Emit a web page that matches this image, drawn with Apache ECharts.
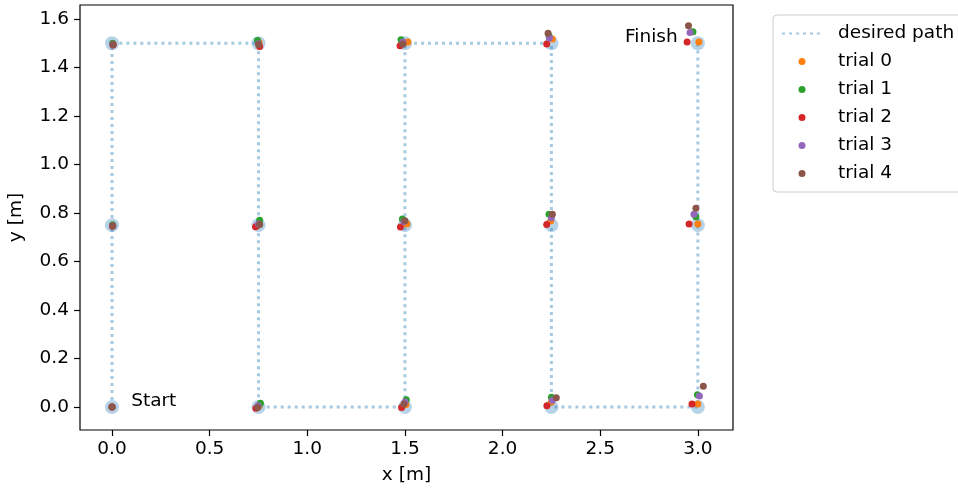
<!DOCTYPE html>
<html><head><meta charset="utf-8">
<script src="https://cdn.jsdelivr.net/npm/echarts@6/dist/echarts.min.js"></script>
<style>html,body{margin:0;padding:0;background:#fff}#c{width:958px;height:488px}</style>
</head><body><div id="c"></div>
<script>
// desired path waypoints (in driving order)
const waypointX = [0, 0, 0, 0.75, 0.75, 0.75, 1.5, 1.5, 1.5, 2.25, 2.25, 2.25, 3, 3, 3];
const waypointY = [0, 0.75, 1.5, 1.5, 0.75, 0, 0, 0.75, 1.5, 1.5, 0.75, 0, 0, 0.75, 1.5];

// measured positions per trial (same waypoint order)
const trial0X = [0.000, 0.003, 0.004, 0.753, 0.752, 0.752, 1.505, 1.510, 1.515, 2.255, 2.247, 2.250, 3.000, 3.000, 3.005];
const trial0Y = [0.000, 0.748, 1.497, 1.503, 0.752, 0.004, 0.010, 0.755, 1.505, 1.518, 0.768, 0.020, 0.012, 0.755, 1.505];
const trial1X = [0.000, 0.003, 0.003, 0.745, 0.756, 0.760, 1.507, 1.487, 1.480, 2.238, 2.238, 2.250, 2.998, 2.990, 2.975];
const trial1Y = [0.000, 0.752, 1.500, 1.512, 0.770, 0.015, 0.030, 0.775, 1.515, 1.530, 0.795, 0.040, 0.050, 0.785, 1.548];
const trial2X = [0.000, 0.002, 0.005, 0.756, 0.735, 0.737, 1.483, 1.477, 1.475, 2.226, 2.226, 2.227, 2.970, 2.955, 2.945];
const trial2Y = [0.000, 0.745, 1.493, 1.487, 0.743, -0.005, -0.002, 0.742, 1.490, 1.497, 0.753, 0.005, 0.012, 0.755, 1.505];
const trial3X = [0.000, 0.004, 0.004, 0.750, 0.750, 0.748, 1.500, 1.495, 1.490, 2.240, 2.250, 2.255, 3.008, 2.980, 2.960];
const trial3Y = [0.000, 0.747, 1.496, 1.498, 0.755, 0.005, 0.020, 0.765, 1.505, 1.522, 0.780, 0.028, 0.045, 0.795, 1.545];
const trial4X = [0.000, 0.004, 0.006, 0.750, 0.756, 0.746, 1.495, 1.500, 1.490, 2.233, 2.255, 2.275, 3.028, 2.990, 2.952];
const trial4Y = [0.000, 0.746, 1.495, 1.495, 0.753, -0.002, 0.012, 0.768, 1.497, 1.541, 0.795, 0.038, 0.085, 0.820, 1.572];

const trialNames = ['trial 0', 'trial 1', 'trial 2', 'trial 3', 'trial 4'];
const trialColors = ['#ff7f0e', '#2ca02c', '#d62728', '#9467bd', '#8c564b'];

const xTicks = [0, 0.5, 1.0, 1.5, 2.0, 2.5, 3.0];
const yTicks = [0, 0.2, 0.4, 0.6, 0.8, 1.0, 1.2, 1.4, 1.6];

const annotationText = ['Start', 'Finish'];
const annotationX = [0.098, 2.897];
const annotationY = [0.022, 1.526];

const trialsX = [trial0X, trial1X, trial2X, trial3X, trial4X];
const trialsY = [trial0Y, trial1Y, trial2Y, trial3Y, trial4Y];
const zip = (xs, ys) => xs.map((x, i) => [x, ys[i]]);

const FONT = 'DejaVu Sans';
const FS = 18.5;
const pathColor = 'rgba(31,119,180,0.4)';

const series = [
  {
    name: 'desired path', type: 'line', data: zip(waypointX, waypointY),
    symbol: 'none', silent: true, z: 1,
    lineStyle: { color: pathColor, width: 3, type: [3, 4], cap: 'butt' },
    itemStyle: { color: pathColor }
  },
  {
    name: 'waypoints', type: 'scatter', data: zip(waypointX, waypointY),
    symbol: 'circle', symbolSize: 14, z: 2, silent: true,
    itemStyle: { color: pathColor }
  }
];
trialNames.forEach((n, i) => {
  series.push({
    name: n, type: 'scatter', data: zip(trialsX[i], trialsY[i]),
    symbol: 'circle', symbolSize: 7, z: 3 + i, silent: true,
    itemStyle: { color: trialColors[i], opacity: 1 }
  });
});

const fmt = v => (Math.round(v * 10) / 10).toFixed(1);

const option = {
  animation: false,
  backgroundColor: '#fff',
  textStyle: { fontFamily: FONT },
  grid: { left: 80, right: 225, top: 5, bottom: 58, show: true, borderColor: '#000', borderWidth: 1.2,
          backgroundColor: 'transparent', containLabel: false, outerBoundsMode: 'none' },
  xAxis: {
    type: 'value', min: -0.164, max: 3.18,
    name: 'x [m]', nameLocation: 'middle', nameGap: 36,
    nameTextStyle: { fontFamily: FONT, fontSize: FS, color: '#000' },
    axisLine: { show: false, onZero: false },
    axisTick: { show: true, length: 6, lineStyle: { color: '#000', width: 1.2 }, customValues: xTicks },
    axisLabel: { color: '#000', fontFamily: FONT, fontSize: FS, margin: 10, customValues: xTicks, formatter: fmt },
    splitLine: { show: false }
  },
  yAxis: {
    type: 'value', min: -0.095, max: 1.658,
    name: 'y [m]', nameLocation: 'middle', nameGap: 54,
    nameTextStyle: { fontFamily: FONT, fontSize: FS, color: '#000' },
    axisLine: { show: false, onZero: false },
    axisTick: { show: true, length: 6, lineStyle: { color: '#000', width: 1.2 }, customValues: yTicks },
    axisLabel: { color: '#000', fontFamily: FONT, fontSize: FS, margin: 11, customValues: yTicks, formatter: fmt },
    splitLine: { show: false }
  },
  legend: {
    orient: 'vertical', left: 773, top: 15,
    padding: [8, 40, 8, 8],
    itemWidth: 40, itemHeight: 7, itemGap: 7,
    borderColor: '#cccccc', borderWidth: 1, borderRadius: 4, backgroundColor: '#fff',
    selectedMode: false,
    textStyle: { fontFamily: FONT, fontSize: FS, color: '#000', lineHeight: 21, padding: [0, 0, 0, 11] },
    data: [{ name: 'desired path', itemStyle: { opacity: 0 } }].concat(trialNames.map(n => ({ name: n })))
  },
  series: series
};

const chart = echarts.init(document.getElementById('c'), null, { renderer: 'canvas' });
chart.setOption(option);

// text annotations anchored at data coordinates
chart.setOption({
  graphic: annotationText.map((t, i) => {
    const p = chart.convertToPixel({ gridIndex: 0 }, [annotationX[i], annotationY[i]]);
    return {
      type: 'text', x: p[0], y: p[1], z: 20, silent: true,
      style: { text: t, fill: '#000', font: FS + 'px "' + FONT + '"',
               align: i === 0 ? 'left' : 'right', verticalAlign: 'middle' }
    };
  })
});
</script>
</body></html>
